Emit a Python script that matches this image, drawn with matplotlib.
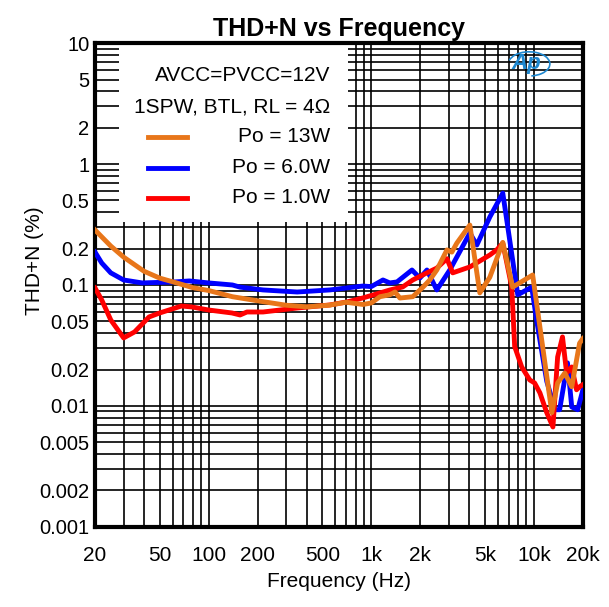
import matplotlib
matplotlib.use("Agg")
import matplotlib.ticker as mtick
from matplotlib import pyplot as plt
from matplotlib.lines import Line2D
from matplotlib.patches import Rectangle, Arc

plt.rcParams['font.family'] = ['Liberation Sans', 'DejaVu Sans']

# Po = 13W (orange)
freq_13w = [20, 22, 25, 30, 40, 50, 62, 80, 100, 140, 200, 300, 400, 550, 700, 890,
            1000, 1130, 1300, 1400, 1500, 1800, 2080, 2290, 2530, 2920, 3130, 3360,
            4040, 4650, 5360, 6440, 7410, 9830, 12900, 14000, 15500, 17100, 19100, 20000]
thd_13w = [0.285, 0.25, 0.21, 0.17, 0.13, 0.114, 0.105, 0.095, 0.09, 0.08, 0.074, 0.068,
           0.066, 0.068, 0.072, 0.069, 0.071, 0.08, 0.083, 0.0875, 0.078, 0.08, 0.096,
           0.11, 0.133, 0.195, 0.187, 0.222, 0.313, 0.086, 0.116, 0.225, 0.096, 0.121,
           0.0088, 0.0155, 0.0187, 0.0144, 0.033, 0.036]

# Po = 6.0W (blue)
freq_6w = [20, 22, 25, 30, 39, 62, 76, 100, 140, 156, 216, 350, 556, 887, 1000, 1180,
           1300, 1440, 1780, 1990, 2200, 2530, 3040, 4040, 4460, 5360, 6440, 7960, 9700,
           10400, 12000, 13500, 14400, 16100, 17100, 18600, 20000]
thd_6w = [0.187, 0.152, 0.126, 0.11, 0.104, 0.106, 0.108, 0.104, 0.1, 0.096, 0.091,
          0.0875, 0.091, 0.098, 0.097, 0.11, 0.104, 0.106, 0.133, 0.114, 0.133, 0.091,
          0.133, 0.269, 0.214, 0.365, 0.575, 0.083, 0.096, 0.051, 0.016, 0.0093, 0.0093,
          0.0227, 0.0098, 0.0093, 0.0135]

# Po = 1.0W (red)
freq_1w = [20, 22, 25, 30, 35, 43, 50, 68, 79, 100, 139, 156, 172, 216, 350, 556, 708,
           887, 1130, 1300, 1560, 1800, 2200, 2530, 2920, 3170, 4040, 5360, 5910, 6440,
           7310, 7620, 8420, 9430, 10100, 10900, 12000, 13100, 14000, 15000, 15900,
           17100, 18300, 19100, 20000]
thd_1w = [0.0945, 0.0752, 0.0514, 0.0365, 0.0409, 0.0544, 0.0587, 0.067, 0.0658, 0.0621,
          0.0587, 0.0565, 0.0598, 0.0598, 0.0645, 0.0684, 0.0724, 0.0781, 0.0859, 0.0909,
          0.0963, 0.11, 0.126, 0.138, 0.165, 0.126, 0.141, 0.177, 0.195, 0.222, 0.096,
          0.031, 0.021, 0.0164, 0.0155, 0.0128, 0.0088, 0.0067, 0.0254, 0.0372, 0.0187,
          0.021, 0.0136, 0.0144, 0.015]

x_ticks = [20, 50, 100, 200, 500, 1000, 2000, 5000, 10000, 20000]
x_labels = ['20', '50', '100', '200', '500', '1k', '2k', '5k', '10k', '20k']
y_ticks = [0.001, 0.002, 0.005, 0.01, 0.02, 0.05, 0.1, 0.2, 0.5, 1, 2, 5, 10]
y_labels = ['0.001', '0.002', '0.005', '0.01', '0.02', '0.05', '0.1', '0.2', '0.5',
            '1', '2', '5', '10']

legend_head = ['AVCC=PVCC=12V', '1SPW, BTL, RL = 4Ω']
series_labels = ['Po = 13W', 'Po = 6.0W', 'Po = 1.0W']
series_colors = ['#E8761A', '#0000FF', '#FF0000']

fig = plt.figure(figsize=(6.09, 6.07), dpi=100)
ax = fig.add_axes([0.156, 0.132, 0.801, 0.797])

ax.set_xscale('log')
ax.set_yscale('log')
ax.set_xlim(20, 20000)
ax.set_ylim(0.001, 10)

ax.xaxis.set_major_locator(mtick.FixedLocator(x_ticks))
ax.xaxis.set_major_formatter(mtick.FixedFormatter(x_labels))
ax.xaxis.set_minor_locator(mtick.LogLocator(base=10, subs=range(1, 10), numticks=50))
ax.xaxis.set_minor_formatter(mtick.NullFormatter())
ax.yaxis.set_major_locator(mtick.FixedLocator(y_ticks))
ax.yaxis.set_major_formatter(mtick.FixedFormatter(y_labels))
ax.yaxis.set_minor_locator(mtick.LogLocator(base=10, subs=range(1, 10), numticks=50))
ax.yaxis.set_minor_formatter(mtick.NullFormatter())

ax.grid(which='both', color='black', linewidth=1.2)
ax.tick_params(which='both', length=0)
ax.tick_params(axis='x', labelsize=15, pad=14)
ax.tick_params(axis='y', labelsize=14.5, pad=4)
for s in ax.spines.values():
    s.set_linewidth(3)
ax.set_axisbelow(True)

# white box behind the legend text
ax.add_patch(Rectangle((0.05, 0.63), 0.468, 0.37, transform=ax.transAxes,
                       facecolor='white', edgecolor='none', zorder=1.5))

ax.plot(freq_6w, thd_6w, color=series_colors[1], lw=3.5, zorder=3)
ax.plot(freq_1w, thd_1w, color=series_colors[2], lw=3.5, zorder=3.1)
ax.plot(freq_13w, thd_13w, color=series_colors[0], lw=3.5, zorder=3.2)

rows = [0.934, 0.868, 0.806, 0.742, 0.680]
for txt, yy in zip(legend_head, rows[:2]):
    ax.text(0.482, yy, txt, transform=ax.transAxes, ha='right', va='center',
            fontsize=15, zorder=4)
for lbl, col, yy in zip(series_labels, series_colors, rows[2:]):
    ax.text(0.482, yy, lbl, transform=ax.transAxes, ha='right', va='center',
            fontsize=15, zorder=4)
    ax.add_line(Line2D([0.109, 0.189], [yy, yy], transform=ax.transAxes,
                       color=col, lw=3.5, zorder=4))

# logo in the corner
ax.text(0.885, 0.957, 'Ap', transform=ax.transAxes, ha='center', va='center',
        fontsize=16, fontstyle='italic', fontweight='bold', color='#1E88D0', zorder=4)
ax.add_patch(Arc((0.89, 0.957), 0.085, 0.05, theta1=-80, theta2=170,
                 transform=ax.transAxes, color='#1E88D0', lw=1.2, zorder=4))

ax.set_title('THD+N vs Frequency', fontsize=18, fontweight='bold', pad=5)
ax.set_xlabel('Frequency (Hz)', fontsize=15, labelpad=5)
ax.set_ylabel('THD+N (%)', fontsize=15)
ax.yaxis.set_label_coords(-0.13 + 0.025, 0.55)

fig.savefig('out.png', dpi=100)
